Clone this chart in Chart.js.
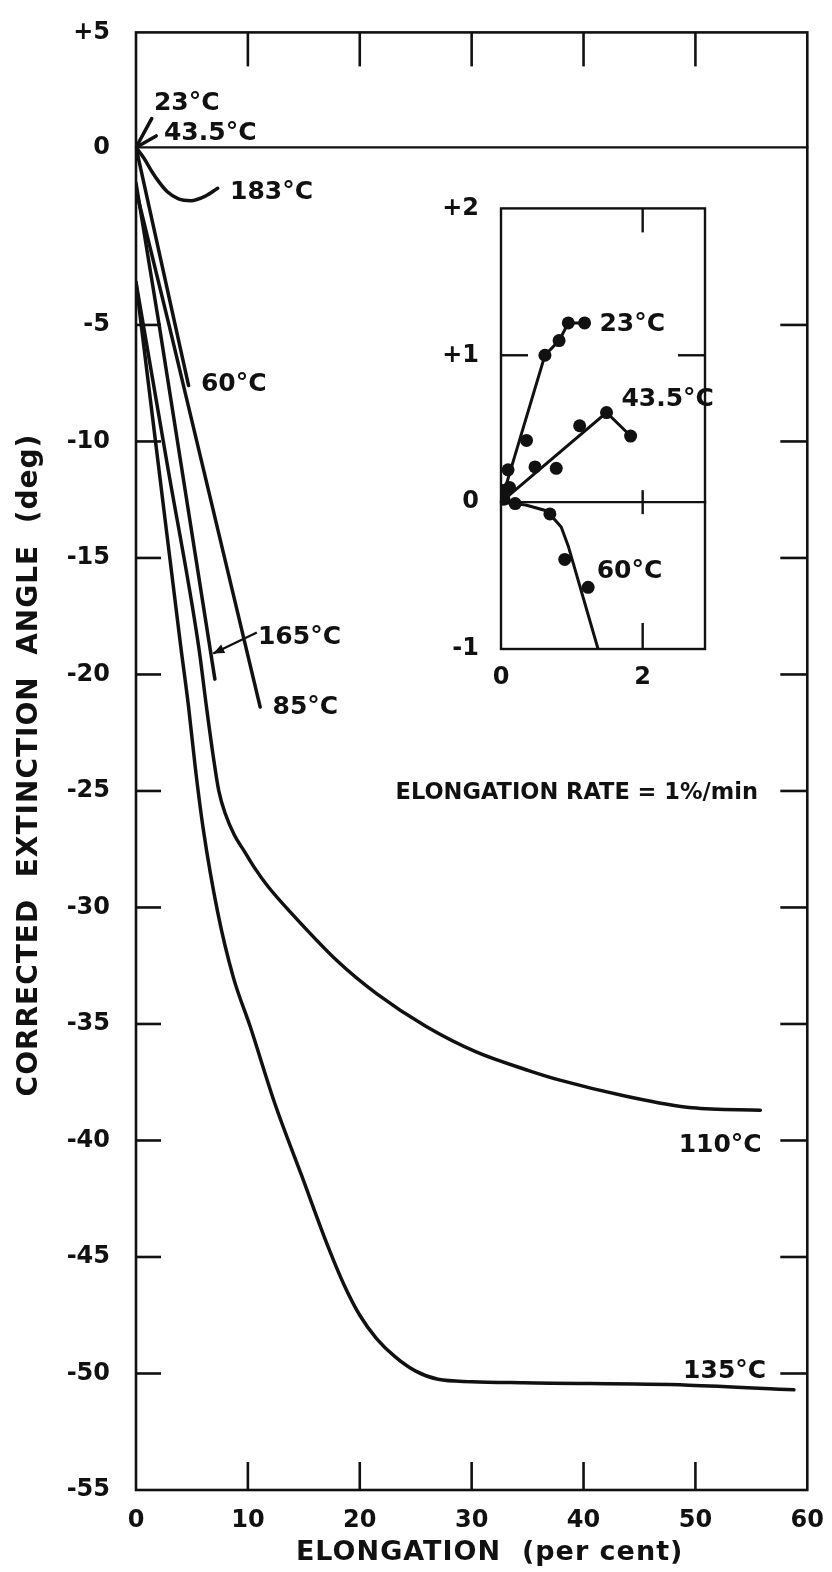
<!DOCTYPE html>
<html><head><meta charset="utf-8">
<script src="https://cdn.jsdelivr.net/npm/chart.js@4.4.1/dist/chart.umd.min.js"></script>
<style>
html,body{margin:0;padding:0;background:#fff;}
#wrap{position:relative;width:832px;height:1572px;background:#fff;}
#main{position:absolute;left:0;top:0;}
#inset{position:absolute;left:440px;top:180px;}
</style></head><body>
<div id="wrap"><canvas id="main" width="832" height="1572"></canvas><canvas id="inset" width="290" height="510"></canvas></div>
<script>
// ---------------- data ----------------
const X_TICKS = [0, 10, 20, 30, 40, 50, 60];
const Y_TICKS = [5, 0, -5, -10, -15, -20, -25, -30, -35, -40, -45, -50, -55];

const c23  = [[0,0],[1.4,1.25]];
const c435 = [[0,0],[1.8,0.5]];
const c183 = [[0,0],[0.7,-0.3],[1.4,-0.67],[2.0,-0.95],[2.8,-1.25],[3.8,-1.45],[4.9,-1.5],[6.2,-1.37],[7.3,-1.15]];
const c60  = [[0,0],[3.5,-5],[4.7,-7.6]];
const c85  = [[0,-1.2],[2.95,-5],[11.1,-21.4]];
const c165 = [[0,-1.0],[2.07,-5],[7.05,-20.2]];
const c110 = [[0,-3.8],[2.8,-11.0],[5.6,-18.8],[6.3,-21.4],[6.9,-23.5],[7.4,-25.0],[8.0,-26.0],[8.8,-26.9],[9.7,-27.6],[10.6,-28.3],[11.8,-29.1],[13.8,-30.2],[18.0,-32.3],[21.5,-33.7],[25.9,-35.1],[30.4,-36.2],[35.1,-37.0],[37.8,-37.4],[43.8,-38.1],[49.7,-38.6],[55.8,-38.7]];
const c135 = [[0,-3.8],[2.0,-11.0],[4.0,-18.8],[4.7,-21.4],[5.3,-24.0],[6.0,-26.6],[7.3,-30.2],[8.7,-33.0],[10.2,-35.1],[12.4,-38.4],[14.8,-41.5],[17.2,-44.6],[18.6,-46.2],[20.0,-47.5],[21.5,-48.5],[23.2,-49.3],[25.0,-49.9],[27.0,-50.25],[30.0,-50.35],[34.6,-50.4],[49.4,-50.5],[58.8,-50.7]];

const curveLabels = [
  {text:'23°C',   x:1.6,  y:1.9},
  {text:'43.5°C', x:2.5,  y:0.6},
  {text:'183°C',  x:8.4,  y:-1.26},
  {text:'60°C',   x:5.8,  y:-7.55},
  {text:'165°C',  x:10.9, y:-18.4},
  {text:'85°C',   x:12.2, y:-21.4},
  {text:'110°C',  x:48.5, y:-40.2},
  {text:'135°C',  x:48.9, y:-49.9}
];
const noteText = 'ELONGATION RATE = 1%/min';
const notePos = {x:23.2, y:-25.1};
const arrow165 = [[10.8,-18.2],[6.9,-19.1]];

// inset data
const INSET_X_TICKS = [0, 2];
const INSET_Y_TICKS = [2, 1, 0, -1];
const i23Line  = [[0,0],[0.62,1.0],[0.82,1.1],[0.95,1.22],[1.18,1.22]];
const i23Dots  = [[0.03,0.08],[0.1,0.22],[0.36,0.42],[0.62,1.0],[0.82,1.1],[0.95,1.22],[1.18,1.22]];
const i435Line = [[0,0],[1.49,0.61],[1.83,0.45]];
const i435Dots = [[0.12,0.1],[0.48,0.24],[0.78,0.23],[1.11,0.52],[1.49,0.61],[1.83,0.45]];
const i60Line  = [[0,0],[0.35,-0.02],[0.65,-0.06],[0.85,-0.17],[0.95,-0.3],[1.37,-1.0]];
const i60Dots  = [[0.04,0.02],[0.2,-0.01],[0.69,-0.08],[0.9,-0.39],[1.23,-0.58]];
const insetLabels = [
  {text:'23°C',   x:1.39, y:1.21},
  {text:'43.5°C', x:1.70, y:0.70},
  {text:'60°C',   x:1.35, y:-0.47}
];

// ---------------- style ----------------
const INK = '#111';
const FONT = '"DejaVu Sans", "Liberation Sans", sans-serif';

// y axis of the original is not uniform between +5 and -5
const Y_BREAK_VALUES = [-55, -5, 0, 5];
const Y_BREAK_FRACS  = [0, 0.7993, 0.9211, 1];
function interp(v, xs, ys){
  let i = 0;
  if (v >= xs[xs.length-1]) i = xs.length-2;
  else if (v > xs[0]) { while (v > xs[i+1]) i++; }
  const t = (v - xs[i]) / (xs[i+1] - xs[i]);
  return ys[i] + t * (ys[i+1] - ys[i]);
}
class PiecewiseScale extends Chart.LinearScale {
  getPixelForValue(v){
    if (v === null || v === undefined || Number.isNaN(+v)) return NaN;
    return this.getPixelForDecimal(interp(+v, Y_BREAK_VALUES, Y_BREAK_FRACS));
  }
  getValueForPixel(p){
    return interp(this.getDecimalForPixel(p), Y_BREAK_FRACS, Y_BREAK_VALUES);
  }
}
PiecewiseScale.id = 'piecewise';
PiecewiseScale.defaults = {};
Chart.register(PiecewiseScale);

const pts = a => a.map(([x,y]) => ({x, y}));
const curve = (label, a, smooth) => ({
  label, data: pts(a), borderColor: INK, borderWidth: 3.5, pointRadius: 0,
  fill: false, tension: smooth ? 0.4 : 0, cubicInterpolationMode: smooth ? 'monotone' : 'default',
  borderCapStyle: 'round', borderJoinStyle: 'round'
});

function seg(ctx, x1, y1, x2, y2){ ctx.beginPath(); ctx.moveTo(x1,y1); ctx.lineTo(x2,y2); ctx.stroke(); }

const mainDecor = {
  id: 'mainDecor',
  afterDraw(chart){
    const {ctx, chartArea: a, scales: {x, y}} = chart;
    ctx.save();
    ctx.strokeStyle = INK; ctx.fillStyle = INK; ctx.lineWidth = 2.6; ctx.lineCap = 'square';
    ctx.strokeRect(a.left, a.top, a.right - a.left, a.bottom - a.top);
    const y0 = y.getPixelForValue(0);
    ctx.lineWidth = 2.2;
    seg(ctx, a.left, y0, a.right, y0);
    ctx.lineWidth = 2.6; ctx.lineCap = 'butt';
    y.ticks.forEach(t => {
      if (t.value <= -5 && t.value >= -50) {
        const p = y.getPixelForValue(t.value);
        seg(ctx, a.left, p, a.left + 25, p);
        seg(ctx, a.right - 27, p, a.right, p);
      }
    });
    x.ticks.forEach(t => {
      if (t.value > 0 && t.value < 60) {
        const p = x.getPixelForValue(t.value);
        seg(ctx, p, a.top, p, a.top + 34);
        seg(ctx, p, a.bottom - 28, p, a.bottom);
      }
    });
    // curve labels
    ctx.font = `bold 25px ${FONT}`;
    ctx.textAlign = 'left'; ctx.textBaseline = 'middle';
    curveLabels.forEach(l => ctx.fillText(l.text, x.getPixelForValue(l.x), y.getPixelForValue(l.y)));
    ctx.font = `bold 22.5px ${FONT}`;
    ctx.fillText(noteText, x.getPixelForValue(notePos.x), y.getPixelForValue(notePos.y));
    // arrow for 165
    const ax1 = x.getPixelForValue(arrow165[0][0]), ay1 = y.getPixelForValue(arrow165[0][1]);
    const ax2 = x.getPixelForValue(arrow165[1][0]), ay2 = y.getPixelForValue(arrow165[1][1]);
    ctx.lineWidth = 2.4;
    seg(ctx, ax1, ay1, ax2, ay2);
    const ang = Math.atan2(ay2 - ay1, ax2 - ax1);
    ctx.beginPath();
    ctx.moveTo(ax2, ay2);
    ctx.lineTo(ax2 - 12*Math.cos(ang - 0.4), ay2 - 12*Math.sin(ang - 0.4));
    ctx.lineTo(ax2 - 12*Math.cos(ang + 0.4), ay2 - 12*Math.sin(ang + 0.4));
    ctx.closePath(); ctx.fill();
    // axis titles
    ctx.font = `bold 27px ${FONT}`;
    ctx.textAlign = 'center';
    ctx.letterSpacing = '1px';
    ctx.fillText('ELONGATION  (per cent)', (a.left + a.right)/2 + 18, 1553);
    ctx.font = `bold 28px ${FONT}`;
    ctx.save();
    ctx.translate(30, 765);
    ctx.rotate(-Math.PI/2);
    ctx.fillText('CORRECTED  EXTINCTION  ANGLE  (deg)', 0, 0);
    ctx.restore();
    ctx.restore();
  }
};

const tickFont = {family: FONT, size: 24, weight: 'bold'};

new Chart(document.getElementById('main'), {
  type: 'line',
  data: { datasets: [
    curve('23°C', c23, false),
    curve('43.5°C', c435, false),
    curve('183°C', c183, true),
    curve('60°C', c60, false),
    curve('85°C', c85, false),
    curve('165°C', c165, false),
    curve('110°C', c110, true),
    curve('135°C', c135, true)
  ]},
  options: {
    responsive: false, animation: false, events: [],
    layout: {padding: {top: 20, right: 21, left: 0, bottom: 0}},
    plugins: {legend: {display: false}, tooltip: {enabled: false}},
    scales: {
      x: {
        type: 'linear', min: 0, max: 60,
        afterBuildTicks: s => { s.ticks = X_TICKS.map(v => ({value: v})); },
        grid: {display: false}, border: {display: false},
        ticks: {font: tickFont, color: INK, padding: 8, maxRotation: 0, autoSkip: false},
        afterFit: s => { s.height = 82; }
      },
      y: {
        type: 'piecewise', min: -55, max: 5,
        afterBuildTicks: s => { s.ticks = Y_TICKS.map(v => ({value: v})); },
        grid: {display: false}, border: {display: false},
        ticks: {font: tickFont, color: INK, padding: 18, autoSkip: false,
                callback: v => v > 0 ? '+' + v : String(v)},
        afterFit: s => { s.width = 136; }
      }
    }
  },
  plugins: [mainDecor]
});

// ---------------- inset ----------------
const insetDecor = {
  id: 'insetDecor',
  afterDraw(chart){
    const {ctx, chartArea: a, scales: {x, y}} = chart;
    ctx.save();
    ctx.strokeStyle = INK; ctx.fillStyle = INK; ctx.lineWidth = 2.4; ctx.lineCap = 'square';
    ctx.strokeRect(a.left, a.top, a.right - a.left, a.bottom - a.top);
    const y0 = y.getPixelForValue(0);
    seg(ctx, a.left, y0, a.right, y0);
    ctx.lineCap = 'butt';
    const y1 = y.getPixelForValue(1);
    seg(ctx, a.left, y1, a.left + 27, y1);
    seg(ctx, a.right - 27, y1, a.right, y1);
    const x2 = x.getPixelForValue(2);
    seg(ctx, x2, a.top, x2, a.top + 24);
    seg(ctx, x2, y0 - 12, x2, y0 + 12);
    seg(ctx, x2, a.bottom - 26, x2, a.bottom);
    ctx.font = `bold 25px ${FONT}`;
    ctx.textAlign = 'left'; ctx.textBaseline = 'middle';
    insetLabels.forEach(l => ctx.fillText(l.text, x.getPixelForValue(l.x), y.getPixelForValue(l.y)));
    ctx.restore();
  }
};
const dots = (label, a) => ({
  label, data: pts(a), showLine: false, pointRadius: 6.5, pointBackgroundColor: INK,
  pointBorderColor: INK, pointBorderWidth: 0, borderColor: INK
});
const iline = (label, a) => ({
  label, data: pts(a), borderColor: INK, borderWidth: 3, pointRadius: 0, fill: false, tension: 0
});

new Chart(document.getElementById('inset'), {
  type: 'line',
  data: { datasets: [
    iline('23°C', i23Line), dots('23°C pts', i23Dots),
    iline('43.5°C', i435Line), dots('43.5°C pts', i435Dots),
    iline('60°C', i60Line), dots('60°C pts', i60Dots)
  ]},
  options: {
    responsive: false, animation: false, events: [],
    layout: {padding: {top: 21, right: 25, left: 0, bottom: 0}},
    plugins: {legend: {display: false}, tooltip: {enabled: false}},
    scales: {
      x: {
        type: 'linear', min: 0, max: 2.88,
        afterBuildTicks: s => { s.ticks = INSET_X_TICKS.map(v => ({value: v})); },
        grid: {display: false}, border: {display: false},
        ticks: {font: tickFont, color: INK, padding: 6, maxRotation: 0, autoSkip: false},
        afterFit: s => { s.height = 41; }
      },
      y: {
        type: 'linear', min: -1, max: 2,
        afterBuildTicks: s => { s.ticks = INSET_Y_TICKS.map(v => ({value: v})); },
        grid: {display: false}, border: {display: false},
        ticks: {font: tickFont, color: INK, padding: 14, autoSkip: false,
                callback: v => v > 0 ? '+' + v : String(v)},
        afterFit: s => { s.width = 61; }
      }
    }
  }
  ,plugins: [insetDecor]
});
</script></body></html>
